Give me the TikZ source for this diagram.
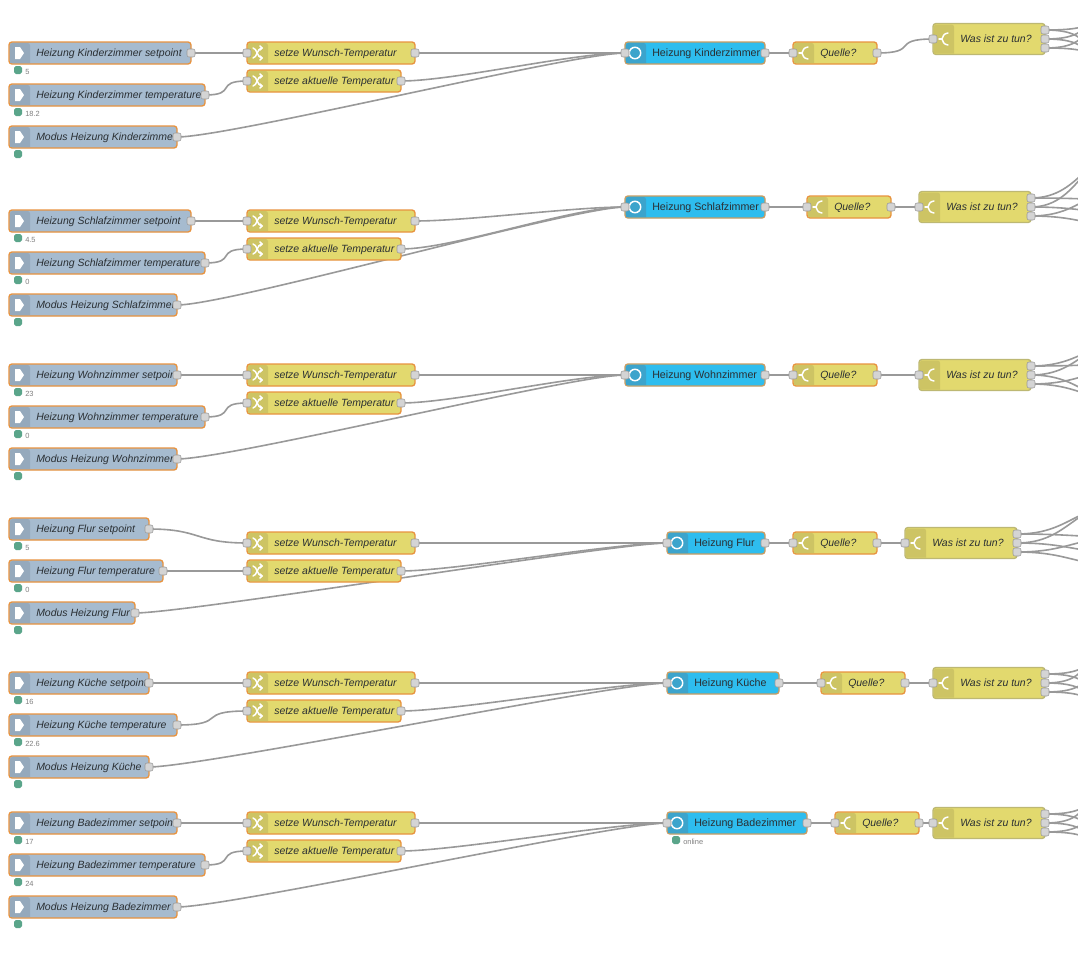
\documentclass[tikz,border=0pt]{standalone}
\usepackage{fontspec}
\setmainfont{Liberation Sans}
\usetikzlibrary{calc,backgrounds}
\definecolor{injfill}{HTML}{A6BBCF}
\definecolor{injstrip}{HTML}{95A9BC}
\definecolor{chgfill}{HTML}{E2D96E}
\definecolor{chgstrip}{HTML}{CDC464}
\definecolor{hzfill}{HTML}{2EBDEE}
\definecolor{hzstrip}{HTML}{3CA4CC}
\definecolor{selline}{HTML}{E8933F}
\definecolor{hzline}{HTML}{C99C62}
\definecolor{plainline}{HTML}{BDB873}
\definecolor{wirecol}{HTML}{999999}
\definecolor{portfill}{HTML}{D4D4D4}
\definecolor{statgreen}{HTML}{5AA58A}
\definecolor{txtcol}{HTML}{2A2F33}
\tikzset{
  wire/.style={draw=wirecol,line width=1.2pt},
  nrbody/.style={rectangle,rounded corners=2.2pt,line width=1pt,inner sep=0pt,outer sep=0pt},
  injbody/.style={nrbody,fill=injfill,draw=selline},
  chgbody/.style={nrbody,fill=chgfill,draw=selline},
  hzbody/.style={nrbody,fill=hzfill,draw=hzline},
  wasbody/.style={nrbody,fill=chgfill,draw=plainline},
  port/.style={rectangle,rounded corners=1.5pt,minimum size=6pt,inner sep=0pt,fill=portfill,draw=wirecol,line width=.4pt},
  nrlabel/.style={anchor=mid west,inner sep=0pt,font=\fontsize{7.85}{8}\selectfont\itshape,text=txtcol},
  hzlabel/.style={anchor=mid west,inner sep=0pt,font=\fontsize{8}{8}\selectfont,text=txtcol},
  statdot/.style={rectangle,rounded corners=1.4pt,minimum size=6pt,inner sep=0pt,fill=statgreen},
  stattext/.style={anchor=mid west,inner sep=0pt,font=\fontsize{5.6}{6}\selectfont,text=black!50},
  iconline/.style={draw=white,line width=1.1pt,line cap=round},
}
% strip: x1, y-half, cy, colour
\newcommand\nrstrip[4]{\fill[#4,rounded corners=1.8pt] (#1+1,#3+#2-1) -- (#1+1,#3-#2+1) -- (#1+21,#3-#2+1) [sharp corners] -- (#1+21,#3+#2-1) -- cycle;}
% basic box: name, x1, x2, cy, style, height
\newcommand\nrbox[6]{\pgfmathsetmacro\nrw{(#3-#2)*0.75}\pgfmathsetmacro\nrh{#6*0.75}
  \node[#5,minimum width=\nrw pt,minimum height=\nrh pt] (#1) at ({(#2+#3)/2},#4) {};}
\newcommand\iconinj[2]{\fill[white] (#1+6,#2-6) -- (#1+11,#2-6) -- (#1+15,#2) -- (#1+11,#2+6) -- (#1+6,#2+6) -- cycle;}
\newcommand\iconchg[2]{\draw[iconline] (#1+6,#2-5) .. controls (#1+10,#2-5) and (#1+10,#2+5) .. (#1+15,#2+5);
  \draw[iconline] (#1+6,#2+5) .. controls (#1+10,#2+5) and (#1+10,#2-5) .. (#1+15,#2-5);
  \draw[iconline] (#1+13,#2-7) -- (#1+15,#2-5) -- (#1+13,#2-3);
  \draw[iconline] (#1+13,#2+3) -- (#1+15,#2+5) -- (#1+13,#2+7);}
\newcommand\iconsw[2]{\draw[iconline] (#1+6,#2) -- (#1+9,#2);
  \draw[iconline] (#1+15,#2-6) .. controls (#1+11,#2-5) .. (#1+9,#2) .. controls (#1+11,#2+5) .. (#1+15,#2+6);}
% nodes
\newcommand\nrinj[6]{\nrbox{#1}{#2}{#3}{#4}{injbody}{22}\nrstrip{#2}{11}{#4}{injstrip}\iconinj{#2}{#4}
  \node[nrlabel] (#1-t) at (#2+27,#4) {#5};
  \node[port] (#1-out) at (#3,#4) {};
  \node[statdot] (#1-d) at (#2+9,#4+17) {};
  \node[stattext] (#1-s) at (#2+16,#4+17.5) {#6};}
\newcommand\nrchg[6]{\nrbox{#1}{#2}{#3}{#4}{chgbody}{22}\nrstrip{#2}{11}{#4}{chgstrip}#6{#2}{#4}
  \node[nrlabel] (#1-t) at (#2+27,#4) {#5};
  \node[port] (#1-in) at (#2,#4) {};
  \node[port] (#1-out) at (#3,#4) {};}
\newcommand\nrhz[5]{\nrbox{#1}{#2}{#3}{#4}{hzbody}{22}\nrstrip{#2}{11}{#4}{hzstrip}
  \node[circle,draw=white,line width=1.1pt,minimum size=8.6pt,inner sep=0pt] (#1-r) at (#2+10,#4) {};
  \node[hzlabel] (#1-t) at (#2+27,#4) {#5};
  \node[port] (#1-in) at (#2,#4) {};
  \node[port] (#1-out) at (#3,#4) {};}
\newcommand\nrwas[4]{\nrbox{#1}{#2}{#3}{#4}{wasbody}{31}\nrstrip{#2}{15.5}{#4}{chgstrip}\iconsw{#2}{#4}
  \node[nrlabel] (#1-t) at (#2+27,#4) {Was ist zu tun?};
  \node[port] (#1-in) at (#2,#4) {};
  \node[port] (#1-a) at (#3,#4-9) {};
  \node[port] (#1-b) at (#3,#4) {};
  \node[port] (#1-c) at (#3,#4+9) {};}
\newcommand\wire[2]{\draw[wire] let \p1=(#1),\p2=(#2),\n1={0.75*min(veclen(\x2-\x1,\y2-\y1),52.5pt)} in
  (\x1,\y1) .. controls (\x1+\n1,\y1) and (\x2-\n1,\y2) .. (\x2,\y2);}
\newcommand\rowwires[1]{\wire{#1sp-out}{#1sw-in}\wire{#1tp-out}{#1sa-in}
  \wire{#1sw-out}{#1hz-in}\wire{#1sa-out}{#1hz-in}\wire{#1mo-out}{#1hz-in}
  \wire{#1hz-out}{#1q-in}\wire{#1q-out}{#1was-in}}
% six free ends
\newcommand\fan[8]{\coordinate (#1f1) at (#2,#3);\coordinate (#1f2) at (#2,#4);\coordinate (#1f3) at (#2,#5);
  \coordinate (#1f4) at (#2,#6);\coordinate (#1f5) at (#2,#7);\coordinate (#1f6) at (#2,#8);
  \wire{#1was-a}{#1f1}\wire{#1was-a}{#1f2}\wire{#1was-b}{#1f3}\wire{#1was-b}{#1f4}\wire{#1was-c}{#1f5}\wire{#1was-c}{#1f6}}
\begin{document}
\begin{tikzpicture}[x=0.75pt,y=-0.75pt]
\useasboundingbox (0,0) rectangle (1078,953);
% row 1
\nrinj{asp}{9}{191}{53}{Heizung Kinderzimmer setpoint}{5}
\nrinj{atp}{9}{205}{95}{Heizung Kinderzimmer temperature}{18.2}
\nrinj{amo}{9}{177}{137}{Modus Heizung Kinderzimmer}{}
\nrchg{asw}{247}{415}{53}{setze Wunsch-Temperatur}{\iconchg}
\nrchg{asa}{247}{401}{81}{setze aktuelle Temperatur}{\iconchg}
\nrhz{ahz}{625}{765}{53}{Heizung Kinderzimmer}
\nrchg{aq}{793}{877}{53}{Quelle?}{\iconsw}
\nrwas{awas}{933}{1045}{39}
% row 2
\nrinj{bsp}{9}{191}{221}{Heizung Schlafzimmer setpoint}{4.5}
\nrinj{btp}{9}{205}{263}{Heizung Schlafzimmer temperature}{0}
\nrinj{bmo}{9}{177}{305}{Modus Heizung Schlafzimmer}{}
\nrchg{bsw}{247}{415}{221}{setze Wunsch-Temperatur}{\iconchg}
\nrchg{bsa}{247}{401}{249}{setze aktuelle Temperatur}{\iconchg}
\nrhz{bhz}{625}{765}{207}{Heizung Schlafzimmer}
\nrchg{bq}{807}{891}{207}{Quelle?}{\iconsw}
\nrwas{bwas}{919}{1031}{207}
% row 3
\nrinj{csp}{9}{177}{375}{Heizung Wohnzimmer setpoint}{23}
\nrinj{ctp}{9}{205}{417}{Heizung Wohnzimmer temperature}{0}
\nrinj{cmo}{9}{177}{459}{Modus Heizung Wohnzimmer}{}
\nrchg{csw}{247}{415}{375}{setze Wunsch-Temperatur}{\iconchg}
\nrchg{csa}{247}{401}{403}{setze aktuelle Temperatur}{\iconchg}
\nrhz{chz}{625}{765}{375}{Heizung Wohnzimmer}
\nrchg{cq}{793}{877}{375}{Quelle?}{\iconsw}
\nrwas{cwas}{919}{1031}{375}
% row 4
\nrinj{dsp}{9}{149}{529}{Heizung Flur setpoint}{5}
\nrinj{dtp}{9}{163}{571}{Heizung Flur temperature}{0}
\nrinj{dmo}{9}{135}{613}{Modus Heizung Flur}{}
\nrchg{dsw}{247}{415}{543}{setze Wunsch-Temperatur}{\iconchg}
\nrchg{dsa}{247}{401}{571}{setze aktuelle Temperatur}{\iconchg}
\nrhz{dhz}{667}{765}{543}{Heizung Flur}
\nrchg{dq}{793}{877}{543}{Quelle?}{\iconsw}
\nrwas{dwas}{905}{1017}{543}
% row 5
\nrinj{esp}{9}{149}{683}{Heizung Küche setpoint}{16}
\nrinj{etp}{9}{177}{725}{Heizung Küche temperature}{22.6}
\nrinj{emo}{9}{149}{767}{Modus Heizung Küche}{}
\nrchg{esw}{247}{415}{683}{setze Wunsch-Temperatur}{\iconchg}
\nrchg{esa}{247}{401}{711}{setze aktuelle Temperatur}{\iconchg}
\nrhz{ehz}{667}{779}{683}{Heizung Küche}
\nrchg{eq}{821}{905}{683}{Quelle?}{\iconsw}
\nrwas{ewas}{933}{1045}{683}
% row 6
\nrinj{fsp}{9}{177}{823}{Heizung Badezimmer setpoint}{17}
\nrinj{ftp}{9}{205}{865}{Heizung Badezimmer temperature}{24}
\nrinj{fmo}{9}{177}{907}{Modus Heizung Badezimmer}{}
\nrchg{fsw}{247}{415}{823}{setze Wunsch-Temperatur}{\iconchg}
\nrchg{fsa}{247}{401}{851}{setze aktuelle Temperatur}{\iconchg}
\nrhz{fhz}{667}{807}{823}{Heizung Badezimmer}
\nrchg{fq}{835}{919}{823}{Quelle?}{\iconsw}
\nrwas{fwas}{933}{1045}{823}
\node[statdot] (fhz-d) at (676,840) {};
\node[stattext] (fhz-s) at (683,840.5) {online};
% wires behind the nodes
\begin{scope}[on background layer]
\fill[white] (0,0) rectangle (1078,953);
\clip (0,0) rectangle (1078,953);
\rowwires{a}\rowwires{b}\rowwires{c}\rowwires{d}\rowwires{e}\rowwires{f}
\fan{a}{1125}{22}{55}{17}{59}{21}{55}
\fan{b}{1141}{143}{200}{137}{214}{184}{228}
\fan{c}{1141}{339}{364}{333}{407}{367}{404}
\fan{d}{1127}{505}{537}{502}{553}{537}{566}
\fan{e}{1125}{659}{691}{651}{700}{672}{702}
\fan{f}{1125}{799}{831}{791}{840}{812}{842}
\end{scope}
\end{tikzpicture}
\end{document}
